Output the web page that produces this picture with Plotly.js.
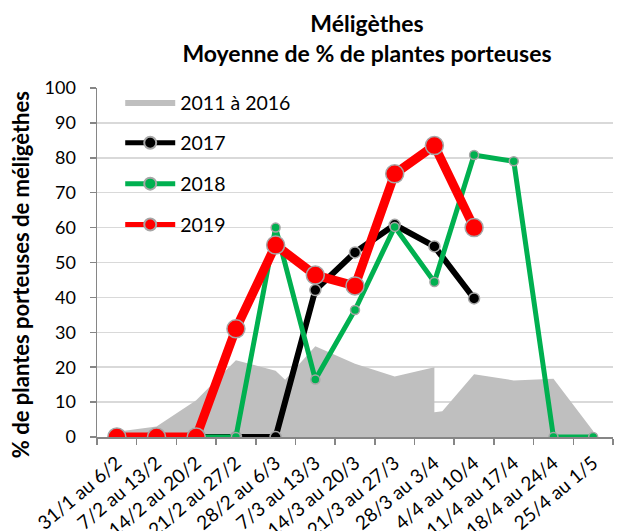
<!DOCTYPE html>
<html><head><meta charset="utf-8">
<script src="https://cdn.plot.ly/plotly-3.0.1.min.js"></script>
<style>body{margin:0;background:#fff}#chart{width:622px;height:531px}</style>
</head><body><div id="chart"></div>
<script>
const categories = ['31/1 au 6/2','7/2 au 13/2','14/2 au 20/2','21/2 au 27/2','28/2 au 6/3','7/3 au 13/3','14/3 au 20/3','21/3 au 27/3','28/3 au 3/4','4/4 au 10/4','11/4 au 17/4','18/4 au 24/4','25/4 au 1/5'];
// 2011 à 2016 reference area (positions expressed in category index units)
const refPos    = [0, 1, 2, 3, 4, 4.24, 5, 6, 7, 8, 8, 8.2, 9, 10, 11, 12];
const refValues = [1.5, 3, 10.5, 22, 19, 16.4, 26, 21, 17.3, 20, 7.1, 7.4, 18, 16.2, 16.7, 1.7];
const v2017 = [0, 0, 0, 0, 0, 42.1, 52.9, 60.8, 54.6, 39.7];
const v2018 = [0, 0, 0, 0, 60, 16.5, 36.4, 60.2, 44.4, 80.8, 79, 0, 0];
const v2019 = [0, 0, 0, 31, 55, 46.4, 43.3, 75.4, 83.5, 60];
const seriesNames = ['2011 à 2016', '2017', '2018', '2019'];
const yTitle = '% de plantes porteuses de méligèthes';

const idx = categories.map((c, i) => i);
const bounds = idx.map(i => i - 0.5).concat([categories.length - 0.5]);
const FONT = 'Lato, "Open Sans", sans-serif';
const outline = {color: '#A6A6A6', width: 1.5};

const traces = [
  {x: refPos, y: refValues, name: seriesNames[0], type: 'scatter', mode: 'lines',
   fill: 'tozeroy', fillcolor: '#BFBFBF', line: {width: 0, color: '#BFBFBF'}, legendgroup: 'a'},
  {x: idx.slice(0, v2017.length), y: v2017, name: seriesNames[1], type: 'scatter', mode: 'lines+markers',
   line: {color: '#000000', width: 6}, marker: {color: '#000000', size: 11, line: outline}, legendgroup: 'b'},
  {x: idx.slice(0, v2018.length), y: v2018, name: seriesNames[2], type: 'scatter', mode: 'lines+markers',
   line: {color: '#00B050', width: 5}, marker: {color: '#00B050', size: 9, line: outline}, legendgroup: 'c'},
  {x: idx.slice(0, v2019.length), y: v2019, name: seriesNames[3], type: 'scatter', mode: 'lines+markers',
   line: {color: '#FF0000', width: 9}, marker: {color: '#FF0000', size: 18, line: outline}, legendgroup: 'd'}
];

const layout = {
  width: 622, height: 531,
  margin: {l: 97, r: 9, t: 88, b: 94},
  paper_bgcolor: '#fff', plot_bgcolor: '#fff',
  font: {family: FONT, color: '#000'},
  title: {text: 'Méligèthes<br>Moyenne de % de plantes porteuses',
          font: {family: FONT, size: 23, weight: 'bold', color: '#000'},
          x: 0.59, xanchor: 'center', xref: 'container', y: 0.94, yanchor: 'top', yref: 'container'},
  showlegend: true,
  legend: {x: 0.045, y: 1.015, xanchor: 'left', yanchor: 'top', bgcolor: 'rgba(0,0,0,0)', itemwidth: 50,
           itemsizing: 'constant',
           font: {family: FONT, size: 19.5, color: '#000'}, tracegroupgap: 12.5, traceorder: 'grouped'},
  xaxis: {type: 'linear', range: [-0.5, categories.length - 0.5], tickmode: 'array', tickvals: idx, ticktext: categories,
          tickangle: -40, ticks: '', ticklabelstandoff: 6, showgrid: false, zeroline: false, showline: true,
          linecolor: '#868686', linewidth: 1.5, tickfont: {family: FONT, size: 19, color: '#000'},
          minor: {tickmode: 'array', tickvals: bounds, ticks: 'outside', ticklen: 6, tickcolor: '#868686', tickwidth: 1.5, showgrid: false}},
  yaxis: {range: [0, 100], dtick: 10, ticks: 'outside', ticklen: 6, tickcolor: '#868686', tickwidth: 1.5, ticklabelstandoff: 10,
          showline: true, linecolor: '#868686', linewidth: 1.5, gridcolor: '#D9D9D9', gridwidth: 1.5,
          zeroline: false, tickfont: {family: FONT, size: 18, color: '#000'}},
  annotations: [{text: yTitle, textangle: -90, xref: 'paper', yref: 'paper', x: -0.149, y: 0.464,
                 xanchor: 'center', yanchor: 'middle', showarrow: false,
                 font: {family: FONT, size: 22, weight: 'bold', color: '#000'}}]
};

Plotly.newPlot('chart', traces, layout, {displayModeBar: false, staticPlot: true});
</script>
</body></html>
